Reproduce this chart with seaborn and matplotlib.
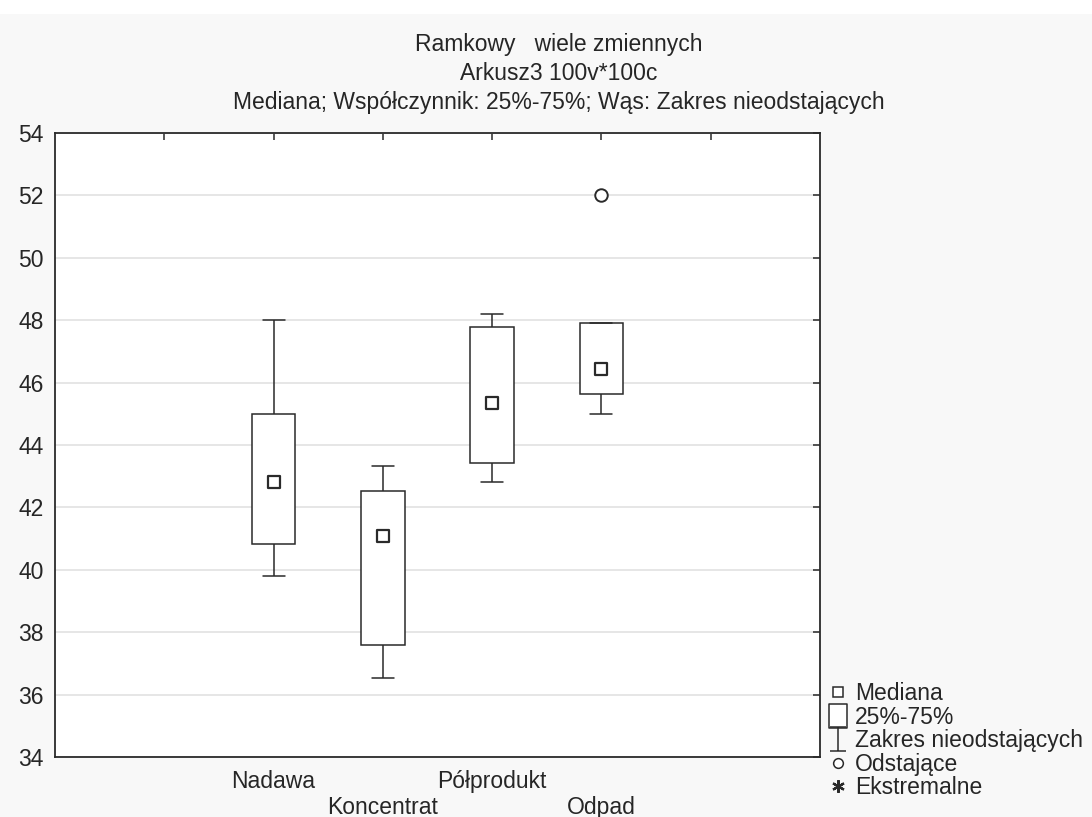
import numpy as np
import pandas as pd
import matplotlib
matplotlib.use('Agg')
import matplotlib.pyplot as plt
from matplotlib.lines import Line2D
from matplotlib.patches import Rectangle
from matplotlib.path import Path
import seaborn as sns

# kategorie i odczytane wartości: (dolny wąs, Q1, mediana, Q3, górny wąs / odstające)
kategorie = ['Nadawa', 'Koncentrat', 'Półprodukt', 'Odpad']
nadawa = [39.81, 40.83, 42.80, 45.00, 48.00]
koncentrat = [36.54, 37.59, 41.10, 42.54, 43.34]
polprodukt = [42.83, 43.41, 45.35, 47.78, 48.21]
odpad = [45.00, 45.62, 46.45, 47.90, 52.00]
mediany = [42.80, 41.10, 45.35, 46.45]
y_ticks = list(range(34, 55, 2))

df = pd.DataFrame({
    'grupa': np.repeat(kategorie, 5),
    'wartosc': nadawa + koncentrat + polprodukt + odpad,
})

sns.set_style('white')
plt.rcParams['font.family'] = ['Liberation Sans', 'DejaVu Sans']
fs = 16.5
plt.rcParams['font.size'] = fs

fig = plt.figure(figsize=(10.92, 8.17), dpi=100, facecolor='#f8f8f8')
# biały pasek u góry jak w oryginale
fig.patches.append(Rectangle((0, 1 - 14 / 817), 1, 14 / 817, transform=fig.transFigure,
                             facecolor='white', edgecolor='none', zorder=0))
ax = fig.add_axes([0.0504, 0.0734, 0.7005, 0.7638])
ax.set_facecolor('white')

kolor = '#2a2a2a'
sns.boxplot(data=df, x='grupa', y='wartosc', order=kategorie, ax=ax,
            width=0.4, whis=1.5, color='white', linecolor=kolor, linewidth=1.1,
            medianprops=dict(linewidth=0),
            flierprops=dict(marker='o', markerfacecolor='white',
                            markeredgecolor=kolor, markersize=9,
                            markeredgewidth=1.4),
            fliersize=9)
sns.stripplot(x=kategorie, y=mediany, order=kategorie, ax=ax, jitter=False,
              marker='s', color='white', edgecolor=kolor, linewidth=1.6,
              size=9, zorder=5)

ax.set_xlim(-2, 5)
ax.set_ylim(34, 54)
ax.set_yticks(y_ticks)
ax.set_xticks(range(-1, 5))
ax.set_xticklabels(['', 'Nadawa', '\nKoncentrat', 'Półprodukt', '\nOdpad', ''])
for t in ax.get_xticklabels():
    t.set_linespacing(1.2)
ax.set_xlabel('')
ax.set_ylabel('')
ax.yaxis.grid(True, color='#e2e2e2', linewidth=1.2)
ax.set_axisbelow(True)
ax.tick_params(direction='in', length=5, width=1.1, top=True, right=True,
               labelsize=fs, color=kolor)
ax.tick_params(axis='x', pad=9)
ax.tick_params(axis='y', pad=8)
for s in ax.spines.values():
    s.set_color(kolor)
    s.set_linewidth(1.3)

fig.text(0.512, 0.945, 'Ramkowy   wiele zmiennych', ha='center', va='center', fontsize=fs)
fig.text(0.512, 0.9095, 'Arkusz3 100v*100c', ha='center', va='center', fontsize=fs)
fig.text(0.512, 0.874, 'Mediana; Współczynnik: 25%-75%; Wąs: Zakres nieodstających',
         ha='center', va='center', fontsize=fs)

# legenda
wasy = Path([(0, -1), (0, 1), (-0.7, 1), (0.7, 1), (-0.7, -1), (0.7, -1)],
            [Path.MOVETO, Path.LINETO, Path.MOVETO, Path.LINETO, Path.MOVETO, Path.LINETO])
ramka = Path([(-0.8, -1), (0.8, -1), (0.8, 1), (-0.8, 1), (-0.8, -1)],
             [Path.MOVETO, Path.LINETO, Path.LINETO, Path.LINETO, Path.CLOSEPOLY])
uchwyty = [
    Line2D([], [], linestyle='none', marker='s', markersize=7.5, markerfacecolor='white',
           markeredgecolor=kolor, markeredgewidth=1.1),
    Line2D([], [], linestyle='none', marker=ramka, markersize=17, markerfacecolor='white',
           markeredgecolor=kolor, markeredgewidth=1.1),
    Line2D([], [], linestyle='none', marker=wasy, markersize=17,
           markeredgecolor=kolor, markeredgewidth=1.1),
    Line2D([], [], linestyle='none', marker='o', markersize=7, markerfacecolor='white',
           markeredgecolor=kolor, markeredgewidth=1.1),
    Line2D([], [], linestyle='none', marker=(6, 2, 0), markersize=9,
           markeredgecolor=kolor, markeredgewidth=1.6),
]
etykiety = ['Mediana', '25%-75%', 'Zakres nieodstających', 'Odstające', 'Ekstremalne']
fig.legend(uchwyty, etykiety, loc='lower left', bbox_to_anchor=(0.743, 0.002),
           frameon=False, fontsize=fs, handlelength=0.9, handletextpad=0.3,
           labelspacing=0.02, borderpad=0.2)

fig.savefig('out.png', dpi=100, facecolor=fig.get_facecolor())
